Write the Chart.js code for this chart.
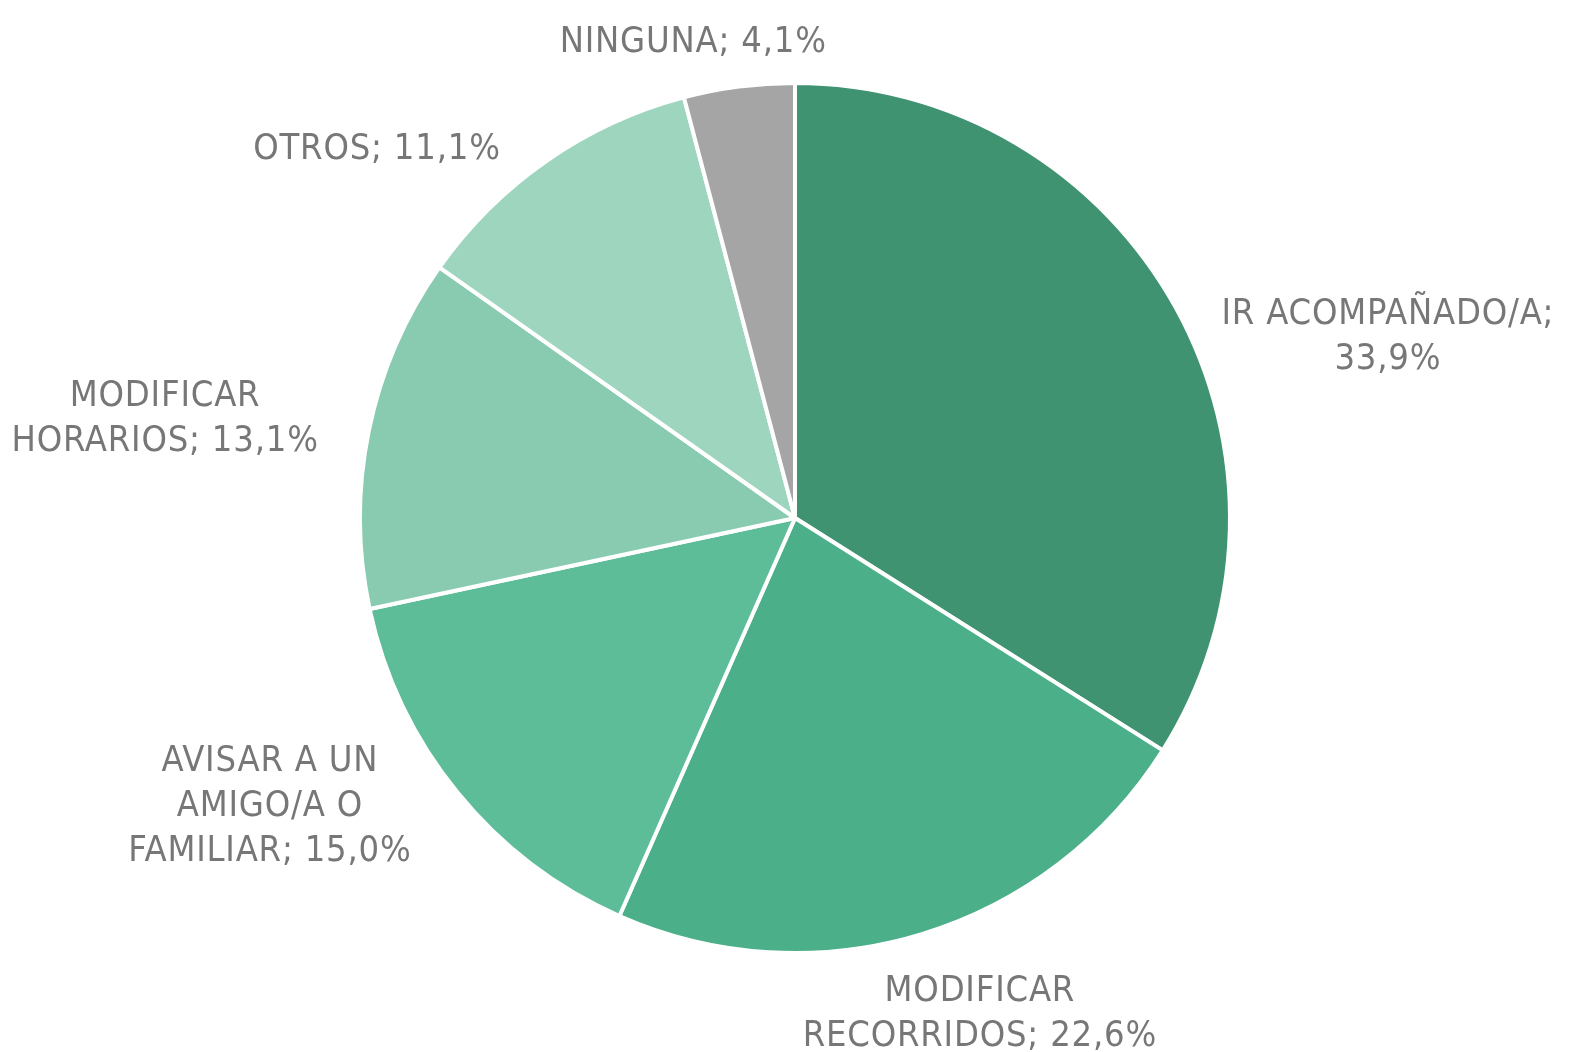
<!DOCTYPE html>
<html>
<head>
<meta charset="utf-8">
<script src="https://cdn.jsdelivr.net/npm/chart.js@4/dist/chart.umd.min.js"></script>
<style>
  html, body { margin: 0; padding: 0; background: #fff; }
  #wrap { width: 1572px; height: 1052px; }
</style>
</head>
<body>
<div id="wrap"><canvas id="pie"></canvas></div>
<script>
"use strict";

// categories and values (percent)
var categories = ["IR ACOMPAÑADO/A", "MODIFICAR RECORRIDOS", "AVISAR A UN AMIGO/A O FAMILIAR",
                  "MODIFICAR HORARIOS", "OTROS", "NINGUNA"];
var values = [33.9, 22.6, 15.0, 13.1, 11.1, 4.1];
// how each label is broken into lines
var labelLines = [
    ["IR ACOMPAÑADO/A;", "33,9%"],
    ["MODIFICAR", "RECORRIDOS; 22,6%"],
    ["AVISAR A UN", "AMIGO/A O", "FAMILIAR; 15,0%"],
    ["MODIFICAR", "HORARIOS; 13,1%"],
    ["OTROS; 11,1%"],
    ["NINGUNA; 4,1%"]
];
var colors = ["#3f9371", "#4baf89", "#5ebd99", "#88cbb0", "#9dd5bf", "#a5a5a5"];

// label centre, relative to pie centre, in units of the radius
var labelPlace = [[1.363, -0.423], [0.425, 1.133], [-1.207, 0.657],
                  [-1.448, -0.234], [-0.961, -0.853], [-0.234, -1.099]];

// draws the outside labels
var outsideLabels = {
    id: "outsideLabels",
    afterDraw: function (chart) {
        var ctx = chart.ctx;
        var arcs = chart.getDatasetMeta(0).data;
        ctx.save();
        ctx.font = "36px 'DejaVu Sans Condensed'";
        ctx.letterSpacing = "0.8px";
        ctx.fillStyle = "#777777";
        ctx.textAlign = "center";
        ctx.textBaseline = "middle";
        var lineH = 45;
        for (var i = 0; i < arcs.length; i++) {
            var a = arcs[i];
            var cx = a.x + labelPlace[i][0] * a.outerRadius;
            var cy = a.y + labelPlace[i][1] * a.outerRadius + 3;
            var lines = labelLines[i];
            var y0 = cy - (lines.length - 1) * lineH / 2;
            for (var j = 0; j < lines.length; j++) {
                ctx.fillText(lines[j], cx, y0 + j * lineH);
            }
        }
        ctx.restore();
    }
};

var ctx = document.getElementById("pie").getContext("2d");
var chart = new Chart(ctx, {
    type: "pie",
    data: {
        labels: categories,
        datasets: [{
            data: values,
            backgroundColor: colors,
            borderColor: "#ffffff",
            borderWidth: 4
        }]
    },
    options: {
        responsive: true,
        maintainAspectRatio: false,
        animation: false,
        layout: { padding: { left: 358, right: 340, top: 81, bottom: 97 } },
        plugins: {
            legend: { display: false },
            tooltip: { enabled: false }
        }
    },
    plugins: [outsideLabels]
});
</script>
</body>
</html>
